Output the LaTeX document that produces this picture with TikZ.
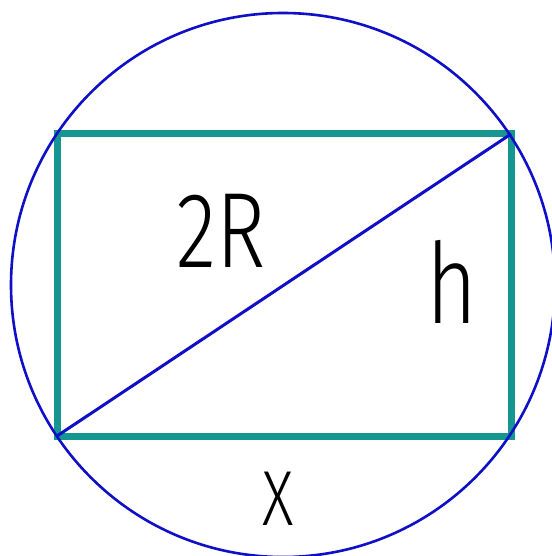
\documentclass[tikz,border=0pt]{standalone}
\usepackage{fontspec}
\newfontfamily\labfont[FakeStretch=0.78]{Fira Sans Light}
\definecolor{rectc}{RGB}{22,150,145}
\definecolor{circc}{RGB}{15,15,200}
\tikzset{
  rectline/.style={draw=rectc, line width=7pt, line join=miter},
  circline/.style={draw=circc, line width=2.6pt},
  diagline/.style={draw=circc, line width=3pt},
  lab/.style={inner sep=0pt, text=black}
}
\begin{document}
\begin{tikzpicture}[x=1pt,y=-1pt]
\useasboundingbox (0,0) rectangle (551,556);
\fill[white] (0,0) rectangle (551,556);
\coordinate (O) at (283,285);
\coordinate (A) at (57,134);
\coordinate (B) at (511,134);
\coordinate (C) at (511,436);
\coordinate (D) at (57,436);
\draw[rectline] (A) -- (B) -- (C) -- (D) -- cycle;
\draw[circline] (O) circle[radius=272pt];
\draw[diagline] (D) -- (B);
\node[lab, font=\labfont\fontsize{107}{107}\selectfont] (t2R) at (221,231) {2R};
\node[lab, font=\labfont\fontsize{112}{112}\selectfont] (th) at (452,282) {h};
\node[lab, font=\labfont\fontsize{78}{78}\selectfont] (tx) at (278,499) {X};
\end{tikzpicture}
\end{document}
